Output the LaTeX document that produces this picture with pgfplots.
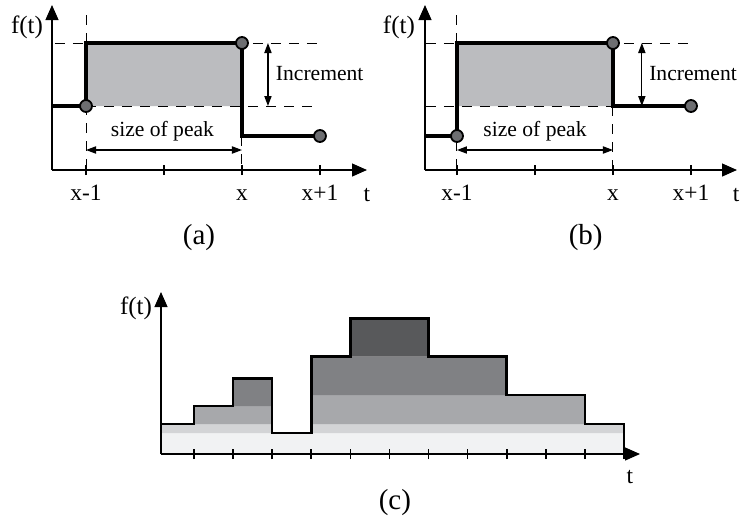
\documentclass[border=0pt]{standalone}
\usepackage{fontspec}
\setmainfont{Liberation Serif}
\usepackage{pgfplots}
\pgfplotsset{compat=1.18}
\usetikzlibrary{arrows.meta}
\definecolor{fillA}{HTML}{BBBCBF}
\definecolor{ptgray}{HTML}{6D6E71}
\definecolor{cA}{HTML}{F1F2F3}
\definecolor{cB}{HTML}{D3D4D6}
\definecolor{cC}{HTML}{A7A8AB}
\definecolor{cD}{HTML}{808184}
\definecolor{cE}{HTML}{58595B}
\tikzset{
  guide/.style={line width=0.5pt,dash pattern=on 5pt off 4pt},
  dim/.style={line width=0.6pt,{Triangle[length=5pt,width=3.6pt]}-{Triangle[length=5pt,width=3.6pt]}},
}
\pgfplotsset{
  stepbase/.style={
    scale only axis, clip=false,
    axis lines*=left,
    axis line style={line width=0.6pt,-{Triangle[length=7.5pt,width=6.5pt]}},
    ymin=0, ytick=\empty,
    tick align=center, major tick length=5pt,
    tick style={line width=0.8pt,black},
    xticklabel style={font=\fontsize{11.7}{13}\selectfont,text height=8pt,text depth=1pt,yshift=-1.2pt},
  },
  pts/.style={only marks,mark=*,mark size=3pt,mark options={fill=ptgray,draw=black,line width=0.9pt}},
}
\begin{document}
\begin{tikzpicture}
\path[use as bounding box] (0,0) rectangle (371.5pt,-260pt);

% (a)
\begin{axis}[stepbase, at={(26pt,-85pt)}, anchor=south west,
  width=157.5pt, height=82.5pt, xmin=0.564, xmax=4.603, ymax=165,
  xtick={1,2,3,4}, xticklabels={x-1,,x,x+1}]
\addplot[fill=fillA,draw=none] coordinates {(1,64) (3,64) (3,127) (1,127) (1,64)};
\draw[guide] (axis cs:0.6,127) -- (axis cs:4,127);
\draw[guide] (axis cs:1,64) -- (axis cs:4,64);
\draw[guide] (axis cs:1,155) -- (axis cs:1,-5);
\draw[guide] (axis cs:3,34) -- (axis cs:3,0);
\addplot[line width=1.7pt] coordinates {(0.564,64) (1,64) (1,127) (3,127) (3,34) (4,34)};
\addplot[pts] coordinates {(1,64) (3,127) (4,34)};
\draw[dim] (axis cs:3.333,127) -- (axis cs:3.333,64);
\node[anchor=west,inner sep=0pt,font=\fontsize{10.8}{12}\selectfont] at (axis cs:3.43,96) {Increment};
\draw[dim] (axis cs:1,20) -- (axis cs:3,20);
\node[font=\fontsize{10.8}{12}\selectfont] at (axis cs:1.98,39) {size of peak};
\node[font=\fontsize{12.5}{14}\selectfont] at (axis cs:0.244,143) {f(t)};
\node[font=\fontsize{11.7}{13}\selectfont] at (axis cs:4.6,-25) {t};
\node[font=\fontsize{14.5}{16}\selectfont] at (axis cs:2.449,-68) {(a)};
\end{axis}

% (b)
\begin{axis}[stepbase, at={(212.5pt,-85pt)}, anchor=south west,
  width=156pt, height=82.5pt, xmin=0.59, xmax=4.59, ymax=165,
  xtick={1,2,3,4}, xticklabels={x-1,,x,x+1}]
\addplot[fill=fillA,draw=none] coordinates {(1,64) (3,64) (3,127) (1,127) (1,64)};
\draw[guide] (axis cs:0.6,127) -- (axis cs:4,127);
\draw[guide] (axis cs:0.6,64) -- (axis cs:3,64);
\draw[guide] (axis cs:1,155) -- (axis cs:1,-5);
\draw[guide] (axis cs:3,64) -- (axis cs:3,0);
\addplot[line width=1.7pt] coordinates {(0.59,34) (1,34) (1,127) (3,127) (3,64) (4,64)};
\addplot[pts] coordinates {(1,34) (3,127) (4,64)};
\draw[dim] (axis cs:3.37,127) -- (axis cs:3.37,64);
\node[anchor=west,inner sep=0pt,font=\fontsize{10.8}{12}\selectfont] at (axis cs:3.46,96) {Increment};
\draw[dim] (axis cs:1,20) -- (axis cs:3,20);
\node[font=\fontsize{10.8}{12}\selectfont] at (axis cs:2,39) {size of peak};
\node[font=\fontsize{12.5}{14}\selectfont] at (axis cs:0.256,143) {f(t)};
\node[font=\fontsize{11.7}{13}\selectfont] at (axis cs:4.58,-25) {t};
\node[font=\fontsize{14.5}{16}\selectfont] at (axis cs:2.65,-68) {(b)};
\end{axis}

% (c)
\begin{axis}[stepbase, axis on top, at={(80.5pt,-227pt)}, anchor=south west,
  width=239.5pt, height=81pt, xmin=0.156, xmax=12.41, ymax=162,
  xtick={1,...,12}, xticklabels={}]
\addplot[fill=cA,draw=none] coordinates {(0.156,0) (12,0) (12,21) (0.156,21) (0.156,0)};
\addplot[fill=cB,draw=none] coordinates {(0.156,21) (3,21) (3,30) (0.156,30) (0.156,21)};
\addplot[fill=cB,draw=none] coordinates {(4,21) (12,21) (12,30) (4,30) (4,21)};
\addplot[fill=cC,draw=none] coordinates {(1,30) (3,30) (3,48) (1,48) (1,30)};
\addplot[fill=cC,draw=none] coordinates {(4,30) (11,30) (11,59) (4,59) (4,30)};
\addplot[fill=cD,draw=none] coordinates {(2,48) (3,48) (3,75.7) (2,75.7) (2,48)};
\addplot[fill=cD,draw=none] coordinates {(4,59) (9,59) (9,97.3) (4,97.3) (4,59)};
\addplot[fill=cE,draw=none] coordinates {(5,97.3) (7,97.3) (7,135.7) (5,135.7) (5,97.3)};
\addplot[line width=1.3pt] coordinates {(0.156,30) (1,30) (1,48) (2,48) (2,75.7) (3,75.7) (3,21) (4,21)
  (4,97.3) (5,97.3) (5,135.7) (7,135.7) (7,97.3) (9,97.3) (9,59) (11,59) (11,30) (12,30) (12,0)};
\node[font=\fontsize{12.5}{14}\selectfont] at (axis cs:-0.484,146) {f(t)};
\node[font=\fontsize{11.7}{13}\selectfont] at (axis cs:12.15,-23) {t};
\node[font=\fontsize{14.5}{16}\selectfont] at (axis cs:6.14,-49) {(c)};
\end{axis}
\end{tikzpicture}
\end{document}
